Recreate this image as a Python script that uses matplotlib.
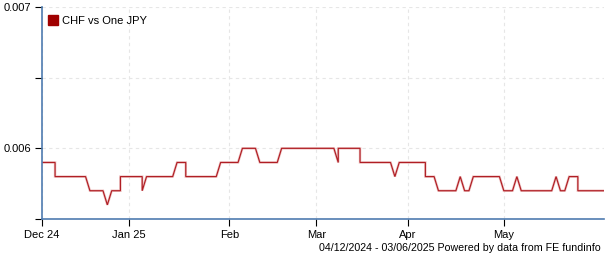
"""
CHF vs One JPY, business-day chart (Dec 2024 - Jun 2025).
"""

import matplotlib
matplotlib.use("Agg")
import matplotlib.pyplot as plt
import pandas as pd

plt.rcParams.update({"font.family": ["Liberation Sans", "DejaVu Sans"], "font.size": 8})

start_date = "2024-12-04"
end_date = "2025-06-03"

# one value per business day; a pair means the rate moved twice that day
rates = [
    0.0059, 0.0059, 0.0059, (0.0059, 0.0058), 0.0058, 0.0058, 0.0058, 0.0058, 0.0058, 0.0058,
    0.0058, 0.0057, 0.0057, 0.0057, 0.0057, 0.0056, 0.0057, 0.0057, (0.0057, 0.0058), 0.0058,
    0.0058, 0.0058, 0.0058, (0.0058, 0.0057), 0.0058, 0.0058, 0.0058, 0.0058, 0.0058, 0.0058,
    0.0058, 0.0059, 0.0059, (0.0059, 0.0058), 0.0058, 0.0058, 0.0058, 0.0058, 0.0058, 0.0058,
    0.0058, 0.0059, 0.0059, 0.0059, 0.0059, 0.0059, 0.0060, 0.0060, 0.0060, 0.0060,
    0.0059, 0.0059, 0.0059, 0.0059, 0.0059, 0.0060, 0.0060, 0.0060, 0.0060, 0.0060,
    0.0060, 0.0060, 0.0060, 0.0060, 0.0060, 0.0060, 0.0060, 0.0060, (0.0059, 0.0060), 0.0060,
    0.0060, 0.0060, 0.0060, (0.0060, 0.0059), 0.0059, 0.0059, 0.0059, 0.0059, 0.0059, 0.0059,
    0.0059, 0.0058, 0.0059, 0.0059, 0.0059, 0.0059, 0.0059, 0.0059, (0.0059, 0.0058), 0.0058,
    0.0058, 0.0057, 0.0057, 0.0057, 0.0057, 0.0057, 0.0058, 0.0057, 0.0057, 0.0058,
    0.0058, 0.0058, 0.0058, 0.0058, 0.0058, 0.0058, 0.0057, 0.0057, 0.0057, 0.0058,
    0.0057, 0.0057, 0.0057, 0.0057, 0.0057, 0.0057, 0.0057, 0.0057, 0.0058, 0.0057,
    0.0057, 0.0058, 0.0058, (0.0058, 0.0057), 0.0057, 0.0057, 0.0057, 0.0057, 0.0057, 0.0057,
]

tick_dates = ["2024-12-04", "2025-01-01", "2025-02-03", "2025-03-03", "2025-04-01", "2025-05-01"]
tick_labels = ["Dec 24", "Jan 25", "Feb", "Mar", "Apr", "May"]

y_ticks = [0.0055, 0.0065, 0.006, 0.007]
y_labels = ["", "", "0.006", "0.007"]

series_name = "CHF vs One JPY"
footer = "04/12/2024 - 03/06/2025 Powered by data from FE fundinfo"


def main():
    days = pd.bdate_range(start_date, end_date)
    xs, ys = [], []
    for i, r in enumerate(rates):
        for v in (r if isinstance(r, tuple) else (r,)):
            xs.append(i)
            ys.append(v)

    fig = plt.figure(figsize=(6.05, 2.6), dpi=100)
    ax = fig.add_axes([42 / 605, 1 - 219 / 260, 562 / 605, 212 / 260])

    ax.plot(xs, ys, color="#eec4c4", lw=1.8, solid_joinstyle="miter")
    ax.plot(xs, ys, color="#b01e24", lw=0.85, solid_joinstyle="miter")

    ax.set_xlim(0, len(days) - 1)
    ax.set_ylim(0.0055, 0.007)

    pos = [days.get_loc(pd.Timestamp(d)) for d in tick_dates]
    ax.set_xticks(pos)
    ax.set_xticklabels(tick_labels)
    ax.set_yticks(y_ticks)
    ax.set_yticklabels(y_labels)

    ax.grid(True, color="#e6e6e6", linestyle=(0, (3, 3)), linewidth=0.8)
    ax.set_axisbelow(True)
    for s in ("top", "right"):
        ax.spines[s].set_visible(False)
    for s in ("left", "bottom"):
        ax.spines[s].set_color("#4f7cb0")
        ax.spines[s].set_linewidth(1.2)
    ax.tick_params(length=5, width=0.8, color="black", labelsize=8, pad=3)

    # legend swatch
    ax.plot([], [], "s", color="#a00000", markersize=7.5, label=series_name)
    ax.legend(loc="upper left", frameon=False, handlelength=0.8, handletextpad=0.4,
              borderaxespad=0.2, fontsize=8, bbox_to_anchor=(0.0, 0.99))

    fig.text(601 / 605, 1 - 248 / 260, footer, ha="right", va="center", fontsize=7.65)

    fig.savefig("out.png", dpi=100)


if __name__ == "__main__":
    main()
